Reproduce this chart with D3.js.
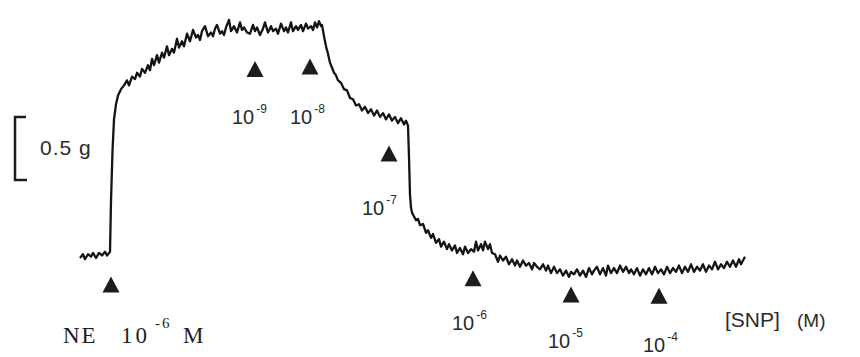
<!DOCTYPE html>
<html>
<head>
<meta charset="utf-8">
<script src="https://cdn.jsdelivr.net/npm/d3@7"></script>
<style>
  body { margin: 0; background: #fff; }
  svg { display: block; }
  .lbl { font-family: "Liberation Sans", Arial, sans-serif; fill: #2b2b2b; }
  .serif { font-family: "Liberation Serif", "Times New Roman", serif; fill: #1e1e1e; }
</style>
</head>
<body>
<svg width="860" height="357"></svg>
<script>
// tension trace, [time (s), tension (g)]
var trace = [
  [0,0.00],[3,0.03],[5,-0.01],[8,0.03],[11,0.01],[13,0.04],[16,0.00],[19,0.04],[22,0.02],[25,0.05],[27,0.02],[29,0.04],
  [30,0.05],[31,0.45],[32.5,0.85],[34,1.10],[36,1.22],[38,1.29],[41,1.34],[44,1.37],
  [47,1.41],[49,1.37],[52,1.44],[55,1.42],[57,1.47],[60,1.44],[62,1.50],[65,1.47],[68,1.53],[70,1.49],
  [72,1.58],[74,1.53],[77,1.61],[79,1.55],[82,1.63],[84,1.59],[87,1.68],[89,1.61],[92,1.66],[94,1.63],
  [97,1.74],[99,1.67],[102,1.72],[104,1.68],[107,1.78],[110,1.72],[113,1.81],[116,1.75],[118,1.77],[120,1.73],
  [122,1.80],[125,1.84],[128,1.76],[131,1.79],[133,1.76],[135,1.82],[137,1.85],[140,1.78],[142,1.80],[144,1.77],
  [146,1.83],[149,1.89],[151,1.80],[154,1.84],[157,1.79],[160,1.87],[162,1.81],[164,1.83],[167,1.79],[170,1.78],
  [173,1.85],[175,1.80],[177,1.83],[180,1.77],[183,1.82],[185,1.87],[188,1.79],[191,1.84],[193,1.80],[196,1.82],
  [198,1.78],[201,1.86],[204,1.80],[206,1.83],[208,1.79],[211,1.87],[213,1.80],[216,1.84],[218,1.81],[221,1.85],
  [223,1.80],[226,1.86],[228,1.82],[231,1.84],[233,1.81],[235,1.87],[237,1.83],[239,1.88],[241,1.84],[242,1.85],
  [244,1.76],[246,1.68],[248,1.62],[250,1.55],[252,1.51],[254,1.47],[256,1.45],[258,1.41],[261,1.39],[264,1.34],
  [267,1.33],[270,1.27],[273,1.26],[276,1.21],[279,1.22],[282,1.17],[285,1.20],[288,1.15],[291,1.18],[294,1.13],
  [297,1.17],[300,1.12],[303,1.15],[306,1.10],[309,1.14],[312,1.09],[315,1.12],[318,1.07],[321,1.11],[324,1.06],
  [326,1.09],[328,1.05],
  [329,0.80],[330,0.50],[331,0.40],[332,0.36],
  [334,0.33],[336,0.30],[338,0.31],[340,0.26],[343,0.27],[346,0.20],[348,0.22],[351,0.16],[353,0.19],[356,0.12],
  [359,0.15],[361,0.09],[364,0.13],[367,0.07],[369,0.11],[372,0.06],[375,0.10],[377,0.04],[380,0.08],[383,0.03],
  [385,0.09],[388,0.04],[391,0.07],[394,0.05],[396,0.13],[398,0.06],[401,0.11],[403,0.06],[405,0.13],[408,0.07],
  [410,0.11],[412,0.04],[415,0.03],[418,-0.03],[420,0.02],[423,-0.02],[426,0.01],[429,-0.05],[432,-0.01],[435,-0.06],
  [437,-0.02],[440,-0.07],[443,-0.02],[446,-0.06],[449,-0.04],[452,-0.09],[454,-0.04],[457,-0.07],[460,-0.09],[463,-0.05],
  [466,-0.10],[468,-0.06],[471,-0.12],[474,-0.07],[477,-0.12],[480,-0.09],[483,-0.14],[486,-0.10],[489,-0.15],[491,-0.11],
  [494,-0.13],[497,-0.09],[500,-0.14],[503,-0.10],[506,-0.15],[509,-0.08],[512,-0.13],[514,-0.10],[517,-0.07],[520,-0.13],
  [523,-0.08],[526,-0.14],[528,-0.06],[531,-0.12],[534,-0.08],[537,-0.12],[540,-0.06],[543,-0.11],[546,-0.07],[549,-0.12],
  [551,-0.09],[554,-0.13],[557,-0.08],[560,-0.14],[563,-0.09],[566,-0.13],[569,-0.08],[572,-0.13],[575,-0.07],[578,-0.12],
  [581,-0.09],[584,-0.13],[587,-0.07],[590,-0.12],[593,-0.08],[596,-0.11],[599,-0.06],[602,-0.12],[605,-0.07],[608,-0.11],
  [611,-0.05],[614,-0.11],[617,-0.07],[620,-0.10],[623,-0.05],[626,-0.11],[629,-0.06],[632,-0.09],[635,-0.03],[638,-0.09],
  [641,-0.05],[644,-0.08],[647,-0.03],[650,-0.07],[653,-0.02],[656,-0.07],[659,-0.01],[661,-0.05],[663,-0.02],[665,0.01]
];

// drug additions (time, s) and the tension level where the arrow sits (g)
var neTime = 31, neLevel = -0.21;
var snpTime  = [175, 230, 309, 393, 491, 579];
var snpLevel = [1.50, 1.52, 0.83, -0.16, -0.29, -0.30];
var snpExp   = ["-9", "-8", "-7", "-6", "-5", "-4"];

// label placement: x offset from arrow, baseline y
var snpLabelDx = [-23, -20, -27, -21, -23, -16];
var snpLabelY  = [124, 124, 215, 330, 348, 352];

var scaleBar = [0.62, 1.12]; // 0.5 g

var svg = d3.select("svg");

var x = d3.scaleLinear().domain([0, 665]).range([80, 745]);
var y = d3.scaleLinear().domain([0, 2]).range([258, 6]);

var line = d3.line()
    .x(function(d) { return x(d[0]); })
    .y(function(d) { return y(d[1]); });

svg.append("path")
    .datum(trace)
    .attr("d", line)
    .attr("fill", "none")
    .attr("stroke", "#141414")
    .attr("stroke-width", 2.3)
    .attr("stroke-linejoin", "round");

var tri = "M0,-8L8.5,8L-8.5,8Z";

var arrows = [{t: neTime, g: neLevel}].concat(snpTime.map(function(t, i) {
    return {t: t, g: snpLevel[i]};
}));

svg.selectAll(".arrow")
    .data(arrows)
    .enter()
    .append("path")
    .attr("class", "arrow")
    .attr("d", tri)
    .attr("transform", function(d) { return "translate(" + x(d.t) + "," + y(d.g) + ")"; })
    .attr("fill", "#1c1c1c");

var labels = svg.selectAll(".snp")
    .data(snpExp)
    .enter()
    .append("text")
    .attr("class", "lbl snp")
    .attr("x", function(d, i) { return x(snpTime[i]) + snpLabelDx[i]; })
    .attr("y", function(d, i) { return snpLabelY[i]; })
    .style("font-size", "20px");
labels.append("tspan").text("10");
labels.append("tspan")
    .attr("dx", 2)
    .attr("dy", -11)
    .style("font-size", "12px")
    .text(function(d) { return d; });

svg.append("text")
    .attr("class", "lbl")
    .attr("x", 725).attr("y", 327)
    .style("font-size", "21px")
    .text("[SNP]");
svg.append("text")
    .attr("class", "lbl")
    .attr("x", 797).attr("y", 327)
    .style("font-size", "19px")
    .text("(M)");

// NE label
svg.append("text").attr("class", "serif")
    .attr("x", 63).attr("y", 343)
    .style("font-size", "23px").style("letter-spacing", "2px")
    .text("NE");
svg.append("text").attr("class", "serif")
    .attr("x", 121).attr("y", 343)
    .style("font-size", "23px").style("letter-spacing", "3px")
    .text("10");
svg.append("text").attr("class", "serif")
    .attr("x", 155).attr("y", 328)
    .style("font-size", "15px").style("letter-spacing", "2px")
    .text("-6");
svg.append("text").attr("class", "serif")
    .attr("x", 183).attr("y", 343)
    .style("font-size", "23px")
    .text("M");

// scale bar
var bx = 15;
svg.append("path")
    .attr("d", "M" + (bx + 11) + "," + y(scaleBar[1]) + "H" + bx + "V" + y(scaleBar[0]) + "H" + (bx + 12))
    .attr("fill", "none")
    .attr("stroke", "#1c1c1c")
    .attr("stroke-width", 2.5);
svg.append("text")
    .attr("class", "lbl")
    .attr("x", 40).attr("y", 155)
    .style("font-size", "21px")
    .style("letter-spacing", "1px")
    .text("0.5 g");
</script>
</body>
</html>
